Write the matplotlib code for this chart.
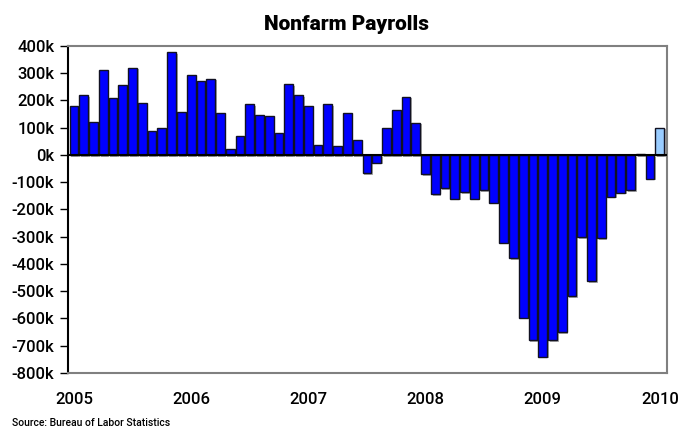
import numpy as np
import matplotlib.pyplot as plt
import matplotlib.patheffects as pe

# monthly change in nonfarm payrolls, thousands (Jan 2005 - Jan 2010)
payrolls_2005 = [180, 220, 120, 310, 210, 258, 320, 189, 86, 97, 378, 159]
payrolls_2006 = [292, 272, 280, 152, 23, 70, 186, 147, 144, 81, 260, 218]
payrolls_2007 = [178, 35, 185, 34, 155, 55, -66, -29, 100, 164, 214, 118]
payrolls_2008 = [-72, -144, -122, -161, -138, -161, -130, -175, -322, -379, -597, -680]
payrolls_2009 = [-741, -680, -652, -519, -303, -464, -305, -154, -139, -130, 4, -87]
payrolls_2010 = [100]

year_labels = ['2005', '2006', '2007', '2008', '2009', '2010']
y_ticks = [400, 300, 200, 100, 0, -100, -200, -300, -400, -500, -600, -700, -800]

plt.rcParams['font.family'] = ['Roboto', 'DejaVu Sans']

values = np.array(payrolls_2005 + payrolls_2006 + payrolls_2007
                  + payrolls_2008 + payrolls_2009 + payrolls_2010)
x = np.arange(len(values))
colors = ['#0000ff'] * (len(values) - 1) + ['#99ccff']

fig = plt.figure(figsize=(6.81, 4.33), dpi=100)
ax = fig.add_axes([0.1, 0.139, 0.879, 0.755])

bars = ax.bar(x, values, width=0.9, color=colors, edgecolor='#111122', linewidth=1.0, zorder=3)
for b in bars:
    b.set_path_effects([pe.SimplePatchShadow(offset=(1.2, -1.2), shadow_rgbFace='#999999', alpha=0.8),
                        pe.Normal()])

ax.axhline(0, color='black', linewidth=1.5, zorder=4)

ax.set_xlim(-0.6, 60.7)
ax.set_ylim(-800, 400)
ax.set_yticks(y_ticks)
ax.set_yticklabels([f'{v}k' for v in y_ticks], fontsize=12, fontweight='medium')
ax.set_xticks(np.arange(0, 61, 12))
ax.set_xticklabels(year_labels, fontsize=12, fontweight='medium')
ax.tick_params(axis='x', length=0, pad=14)
ax.tick_params(axis='y', length=6, width=1, direction='out', pad=4)

ax.spines['left'].set_color('black')
ax.spines['left'].set_linewidth(1.5)
for s in ['top', 'right', 'bottom']:
    ax.spines[s].set_color('#808080')
    ax.spines[s].set_linewidth(1.5)

fig.text(0.508, 0.943, 'Nonfarm Payrolls', ha='center', va='center', fontsize=15, fontweight='heavy')
fig.text(0.018, 0.012, 'Source: Bureau of Labor Statistics', ha='left', va='bottom',
         fontsize=7.5, fontweight='medium')

fig.savefig('out.png', dpi=100)
